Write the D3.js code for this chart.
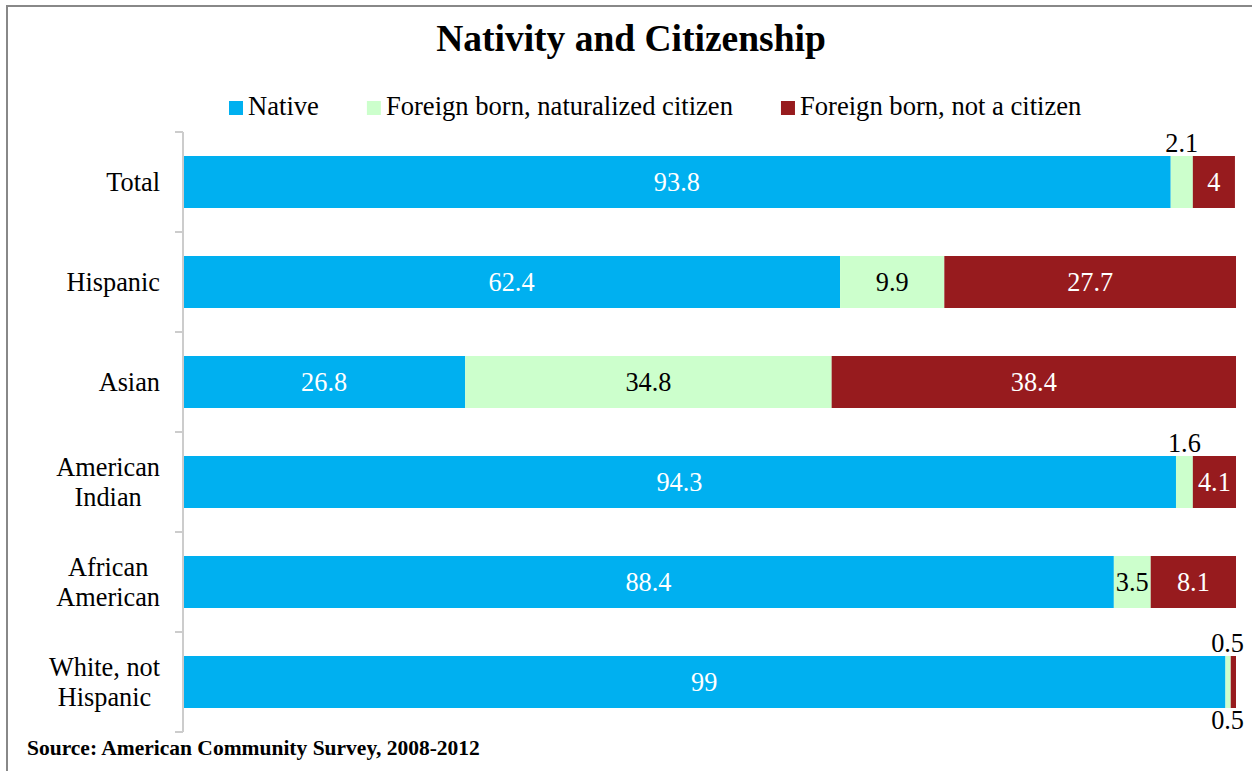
<!DOCTYPE html>
<html>
<head>
<meta charset="utf-8">
<script src="https://cdn.jsdelivr.net/npm/d3@7/dist/d3.min.js"></script>
<style>
  html, body { margin: 0; padding: 0; background: #fff; }
  svg { display: block; font-family: "Liberation Serif", "Times New Roman", serif; }
</style>
</head>
<body>
<svg id="chart" width="1252" height="771"></svg>
<script>
// Nativity and citizenship shares by group (percent)
const categories = ["Total", "Hispanic", "Asian", "American Indian", "African American", "White, not Hispanic"];
const categoryLines = [["Total"], ["Hispanic"], ["Asian"], ["American", "Indian"], ["African", "American"], ["White, not", "Hispanic"]];
const seriesNames = ["Native", "Foreign born, naturalized citizen", "Foreign born, not a citizen"];
const native =      [93.8, 62.4, 26.8, 94.3, 88.4, 99];
const naturalized = [2.1,  9.9,  34.8, 1.6,  3.5,  0.5];
const notCitizen =  [4,    27.7, 38.4, 4.1,  8.1,  0.5];
const xDomain = [0, 100];

const colors = ["#00B0F0", "#CCFFCC", "#971B1E"];
const insideText = ["#ffffff", "#000000", "#ffffff"];

const svg = d3.select("#chart");
const W = 1252, H = 771;

// outer frame
svg.append("rect")
  .attr("x", 7).attr("y", 6).attr("width", W + 40).attr("height", H + 40)
  .attr("fill", "#fff").attr("stroke", "#888").attr("stroke-width", 2);

// title
svg.append("text")
  .attr("x", 631).attr("y", 51)
  .attr("text-anchor", "middle")
  .attr("font-size", 37.5).attr("font-weight", "bold")
  .text("Nativity and Citizenship");

// scales
const x = d3.scaleLinear().domain(xDomain).range([183, 1236]);
const y = d3.scaleBand().domain(categories).range([132, 732])
  .paddingInner(0.48).paddingOuter(0.24);

// stacked data
const rows = categories.map((c, i) => ({ cat: c, v: [native[i], naturalized[i], notCitizen[i]] }));
const keys = [0, 1, 2];
const stack = d3.stack().keys(keys).value((d, k) => d.v[k]);
const stacked = stack(rows);

// legend
const legend = svg.append("g").attr("font-size", 26.6);
let lx = 229;
seriesNames.forEach((name, i) => {
  legend.append("rect")
    .attr("x", lx).attr("y", 101).attr("width", 14).attr("height", 14)
    .attr("fill", colors[i]);
  const t = legend.append("text")
    .attr("x", lx + 19).attr("y", 115)
    .text(name);
  lx += 19 + t.node().getComputedTextLength() + 48;
});

// bars
const barG = svg.append("g");
stacked.forEach((layer, k) => {
  barG.selectAll(null).data(layer).join("rect")
    .attr("x", d => x(d[0]))
    .attr("y", d => y(d.data.cat))
    .attr("width", d => x(d[1]) - x(d[0]))
    .attr("height", y.bandwidth())
    .attr("fill", colors[k]);
});

// axis line and boundary ticks
const axisColor = "#cccccc";
const bandStep = y.step();
const axisTop = y.range()[0];
svg.append("line")
  .attr("x1", x(0)).attr("x2", x(0))
  .attr("y1", axisTop).attr("y2", y.range()[1])
  .attr("stroke", axisColor).attr("stroke-width", 2);
d3.range(categories.length + 1).forEach(i => {
  svg.append("line")
    .attr("x1", x(0) - 8).attr("x2", x(0))
    .attr("y1", axisTop + i * bandStep).attr("y2", axisTop + i * bandStep)
    .attr("stroke", axisColor).attr("stroke-width", 2);
});

// category labels (block right-aligned, lines centred)
const catG = svg.append("g").attr("font-size", 26.3);
categories.forEach((c, i) => {
  const lines = categoryLines[i];
  const cy = y(c) + y.bandwidth() / 2;
  const probe = catG.append("text").attr("visibility", "hidden");
  let maxW = 0;
  lines.forEach(l => { probe.text(l); maxW = Math.max(maxW, probe.node().getComputedTextLength()); });
  probe.remove();
  const cx = 160 - maxW / 2;
  const lh = 30;
  lines.forEach((l, j) => {
    catG.append("text")
      .attr("x", cx)
      .attr("y", cy + 9 - (lines.length - 1) * lh / 2 + j * lh)
      .attr("text-anchor", "middle")
      .text(l);
  });
});

// value labels
const labG = svg.append("g").attr("font-size", 26.3);
const rightLimit = 1244;
rows.forEach((row, i) => {
  const cat = row.cat;
  const by = y(cat);
  let outsideCount = 0;
  keys.forEach(k => {
    const d = stacked[k][i];
    const val = row.v[k];
    const x0 = x(d[0]), x1 = x(d[1]);
    const t = labG.append("text").attr("text-anchor", "middle").text(String(val));
    const tw = t.node().getComputedTextLength();
    let cx = (x0 + x1) / 2;
    if (x1 - x0 >= tw) {
      t.attr("x", cx).attr("y", by + y.bandwidth() / 2 + 9).attr("fill", insideText[k]);
    } else {
      cx = Math.min(cx, rightLimit - tw / 2);
      const ty = outsideCount === 0 ? by - 4 : by + y.bandwidth() + 21;
      outsideCount++;
      t.attr("x", cx).attr("y", ty).attr("fill", "#000");
    }
  });
});

// source note
svg.append("text")
  .attr("x", 27).attr("y", 755)
  .attr("font-size", 21.5).attr("font-weight", "bold")
  .text("Source: American Community Survey, 2008-2012");
</script>
</body>
</html>
